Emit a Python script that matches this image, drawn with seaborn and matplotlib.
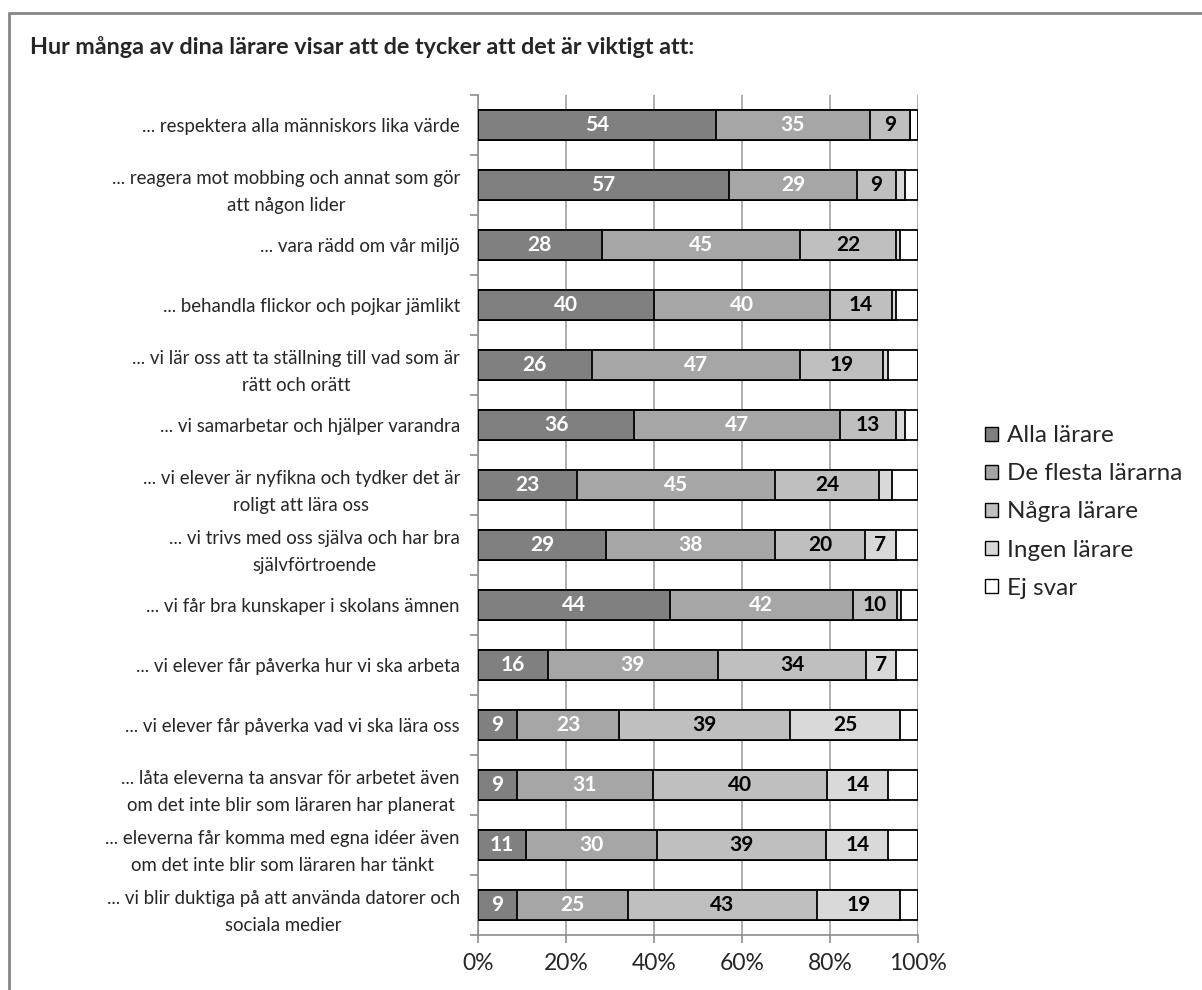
import matplotlib
matplotlib.use("Agg")
import matplotlib.pyplot as plt
import seaborn as sns
import numpy as np
import pandas as pd
from matplotlib.lines import Line2D
from matplotlib.patches import Patch

categories = [
    "... respektera alla människors lika värde",
    "... reagera mot mobbing och annat som gör\natt någon lider",
    "... vara rädd om vår miljö",
    "... behandla flickor och pojkar jämlikt",
    "... vi lär oss att ta ställning till vad som är\nrätt och orätt",
    "... vi samarbetar och hjälper varandra",
    "... vi elever är nyfikna och tydker det är\nroligt att lära oss",
    "... vi trivs med oss själva och har bra\nsjälvförtroende",
    "... vi får bra kunskaper i skolans ämnen",
    "... vi elever får påverka hur vi ska arbeta",
    "... vi elever får påverka vad vi ska lära oss",
    "... låta eleverna ta ansvar för arbetet även\nom det inte blir som läraren har planerat",
    "... eleverna får komma med egna idéer även\nom det inte blir som läraren har tänkt",
    "... vi blir duktiga på att använda datorer och\nsociala medier",
]
series_names = ["Alla lärare", "De flesta lärarna", "Några lärare", "Ingen lärare", "Ej svar"]
alla      = [54.1, 57.1, 28.1, 40.0, 25.8, 35.5, 22.6, 29.2, 43.6, 15.8, 8.9, 8.9, 11.0, 8.9]
de_flesta = [34.9, 29.0, 45.0, 39.9, 47.3, 46.7, 44.8, 38.4, 41.6, 38.8, 23.1, 30.8, 29.6, 25.1]
nagra     = [9.2, 8.9, 22.0, 14.2, 19.0, 12.8, 23.8, 20.3, 10.0, 33.6, 39.0, 39.6, 38.6, 43.0]
ingen     = [0.0, 2.0, 0.8, 0.9, 1.0, 2.0, 2.8, 7.1, 1.0, 6.8, 25.0, 13.9, 14.0, 19.0]
ej_svar   = [1.8, 3.0, 4.1, 5.0, 6.9, 3.0, 6.0, 5.0, 3.8, 5.0, 4.0, 6.8, 6.8, 4.0]
x_ticks = [0, 20, 40, 60, 80, 100]
x_tick_labels = ["0%", "20%", "40%", "60%", "80%", "100%"]
title = "Hur många av dina lärare visar att de tycker att det är viktigt att:"

colors = ["#808080", "#a6a6a6", "#bfbfbf", "#d9d9d9", "#ffffff"]
label_colors = ["white", "white", "black", "black", None]

sns.set_theme(style="white")
plt.rcParams["font.family"] = ["Lato", "DejaVu Sans"]

values = np.array([alla, de_flesta, nagra, ingen, ej_svar])
cum = np.cumsum(values, axis=0)
df = pd.DataFrame({"cat": categories})
for i, name in enumerate(series_names):
    df[name] = cum[i]

fig = plt.figure(figsize=(12.02, 9.90), dpi=100)
ax = fig.add_axes([478 / 1202, 1 - 935 / 990, 440 / 1202, 840 / 990])

# draw from the back (largest cumulative) to front
for i in range(len(series_names) - 1, -1, -1):
    sns.barplot(data=df, x=series_names[i], y="cat", orient="h", color=colors[i],
                edgecolor="black", linewidth=1.3, width=0.5, saturation=1, ax=ax, zorder=3)

# data labels
for i in range(4):
    for j in range(len(categories)):
        v = values[i][j]
        if v >= 5:
            ax.text(cum[i][j] - v / 2, j, f"{int(round(v))}", ha="center", va="center",
                    color=label_colors[i], fontsize=15, fontweight="bold", zorder=5)

ax.set_xlim(0, 100)
ax.set_ylim(len(categories) - 0.5, -0.5)
ax.set_xticks(x_ticks)
ax.set_xticklabels(x_tick_labels, fontsize=16.5)
ax.set_xlabel("")
ax.set_ylabel("")
ax.set_yticks(range(len(categories)))
ax.set_yticklabels(categories, fontsize=13.4, ha="right", multialignment="center", linespacing=1.75)
ax.set_yticks(np.arange(-0.5, len(categories), 1), minor=True)
ax.tick_params(axis="y", which="major", length=0, pad=13)
ax.tick_params(axis="y", which="minor", length=6, color="#8c8c8c", width=1.2, left=True)
ax.tick_params(axis="x", which="major", length=6, color="#8c8c8c", width=1.2, bottom=True, pad=7)
ax.xaxis.grid(True, color="#a0a0a0", linewidth=1.2, zorder=0)
ax.yaxis.grid(False)
ax.set_axisbelow(True)
for s in ["top", "right"]:
    ax.spines[s].set_visible(False)
for s in ["left", "bottom"]:
    ax.spines[s].set_color("#8c8c8c")
    ax.spines[s].set_linewidth(1.2)
if ax.get_legend():
    ax.get_legend().remove()

handles = [Patch(facecolor=colors[i], edgecolor="black", linewidth=1.0) for i in range(5)]
fig.legend(handles, series_names, loc="center left", bbox_to_anchor=(985 / 1202, 1 - 512 / 990),
           frameon=False, fontsize=17.5, handlelength=0.55, handleheight=0.55, handletextpad=0.35,
           labelspacing=0.7, borderaxespad=0, borderpad=0)

fig.text(30 / 1202, 1 - 47 / 990, title, fontsize=16.8, fontweight="bold", ha="left", va="center")

# outer border (top and left)
fig.add_artist(Line2D([8.5 / 1202, 8.5 / 1202], [0, 1 - 13 / 990], transform=fig.transFigure,
                      color="#888888", linewidth=2))
fig.add_artist(Line2D([8.5 / 1202, 1], [1 - 13 / 990, 1 - 13 / 990], transform=fig.transFigure,
                      color="#888888", linewidth=2))

fig.savefig("out.png", dpi=100)
